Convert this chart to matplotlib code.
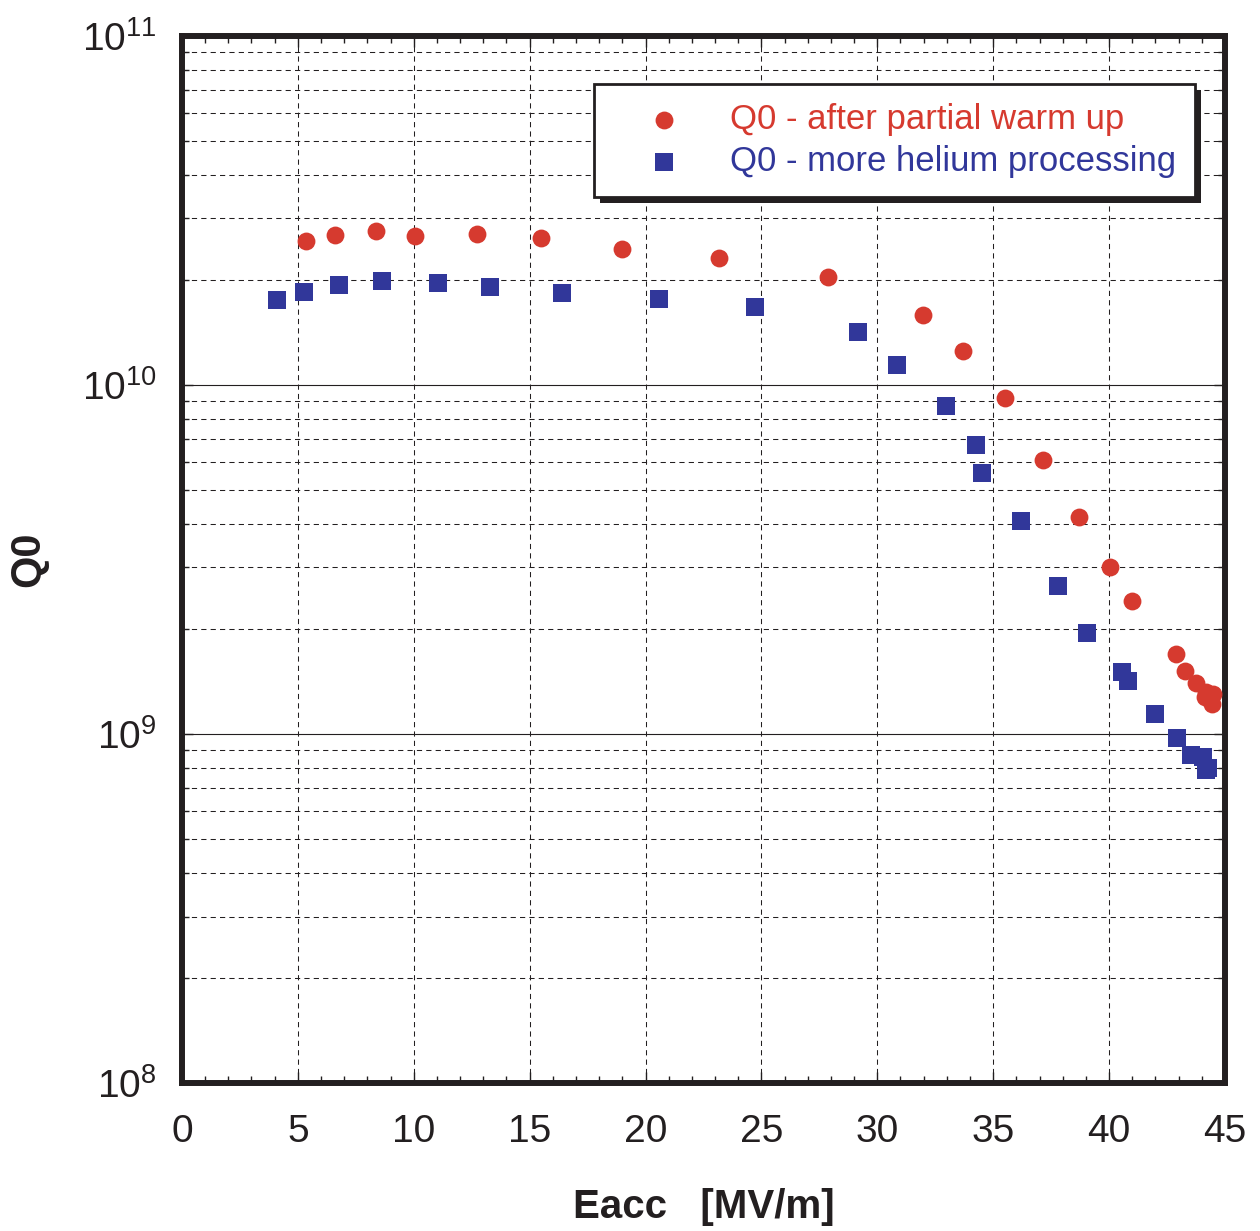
import matplotlib
matplotlib.use("Agg")
import matplotlib.pyplot as plt
import matplotlib.patheffects as pe
from matplotlib import ticker
import numpy as np

# Q0 vs Eacc
eacc_warm = [5.35, 6.6, 8.37, 10.05, 12.73, 15.49, 18.98, 23.17, 27.87, 31.97,
             33.68, 35.5, 37.14, 38.72, 40.02, 41.01, 42.89, 43.27, 43.74,
             44.2, 44.13, 44.42, 44.48]
q0_warm = [2.59e10, 2.69e10, 2.76e10, 2.67e10, 2.71e10, 2.64e10, 2.45e10, 2.31e10,
           2.04e10, 1.59e10, 1.25e10, 9.2e9, 6.08e9, 4.19e9, 3.01e9, 2.40e9,
           1.70e9, 1.52e9, 1.40e9, 1.32e9, 1.28e9, 1.22e9, 1.30e9]

eacc_he = [4.08, 5.26, 6.77, 8.63, 11.04, 13.29, 16.39, 20.58, 24.72, 29.16,
           30.85, 32.96, 34.27, 34.51, 36.2, 37.79, 39.04, 40.55, 40.81, 41.98,
           42.92, 43.55, 44.05, 44.2, 44.28]
q0_he = [1.75e10, 1.85e10, 1.93e10, 1.99e10, 1.96e10, 1.91e10, 1.83e10, 1.76e10,
         1.67e10, 1.42e10, 1.14e10, 8.71e9, 6.75e9, 5.61e9, 4.07e9, 2.66e9,
         1.95e9, 1.51e9, 1.42e9, 1.14e9, 9.75e8, 8.73e8, 8.6e8, 7.89e8, 7.98e8]

label_warm = "Q0 - after partial warm up"
label_he = "Q0 - more helium processing"

red = "#d63a2f"
blue = "#31379a"
ink = "#231f20"

plt.rcParams['font.family'] = ['Liberation Sans', 'DejaVu Sans']
plt.rcParams['mathtext.fontset'] = 'custom'
plt.rcParams['mathtext.rm'] = 'Liberation Sans'
plt.rcParams['mathtext.it'] = 'Liberation Sans'

fig = plt.figure(figsize=(12.6, 12.31), dpi=100)
ax = fig.add_axes([0.1444, 0.1202, 0.8278, 0.8506])

ax.set_yscale('log')
ax.set_xlim(0, 45)
ax.set_ylim(1e8, 1e11)

# grid: solid decades, dashed minors and x
ax.grid(True, which='major', axis='y', color=ink, lw=0.8, ls='-')
ax.grid(True, which='minor', axis='y', color=ink, lw=0.75, dashes=(5, 4))
ax.grid(True, which='major', axis='x', color=ink, lw=0.75, dashes=(5, 4))
ax.set_axisbelow(True)

ax.scatter(eacc_warm, q0_warm, s=165, marker='o', color=red, lw=0, zorder=3,
           label=label_warm)
ax.scatter(eacc_he, q0_he, s=175, marker='s', color=blue, lw=0, zorder=3,
           label=label_he)

ax.xaxis.set_major_locator(ticker.MultipleLocator(5))
ax.xaxis.set_minor_locator(ticker.MultipleLocator(1))
ax.yaxis.set_major_locator(ticker.LogLocator(base=10, numticks=10))
ax.yaxis.set_minor_locator(ticker.LogLocator(base=10, subs=np.arange(2, 10), numticks=20))
ax.yaxis.set_minor_formatter(ticker.NullFormatter())

ax.tick_params(axis='both', which='both', direction='in', top=True, right=True,
               color=ink, width=1.0)
ax.tick_params(axis='both', which='major', length=8, labelsize=28, labelcolor=ink)
ax.tick_params(axis='both', which='minor', length=5)
ax.tick_params(axis='x', which='major', pad=22)
ax.tick_params(axis='y', which='major', pad=18)

for s in ax.spines.values():
    s.set_linewidth(4.3)
    s.set_color(ink)

ax.set_xlabel("Eacc   [MV/m]", fontsize=29, fontweight='bold', color=ink, labelpad=28)
ax.set_ylabel("Q0", fontsize=30, fontweight='bold', color=ink, labelpad=24)

leg = ax.legend(loc='upper right', bbox_to_anchor=(0.971, 0.954), borderaxespad=0,
                fontsize=25, fancybox=False, frameon=True, borderpad=0.55,
                handlelength=2.9, handletextpad=0.45, labelspacing=0.25,
                scatterpoints=1)
frame = leg.get_frame()
frame.set_edgecolor(ink)
frame.set_linewidth(2.0)
frame.set_alpha(1)
frame.set_path_effects([pe.SimplePatchShadow(offset=(4.5, -4.5), shadow_rgbFace=ink, alpha=1),
                        pe.Normal()])
for t, c in zip(leg.get_texts(), [red, blue]):
    t.set_color(c)

fig.savefig("out.png", dpi=100)
